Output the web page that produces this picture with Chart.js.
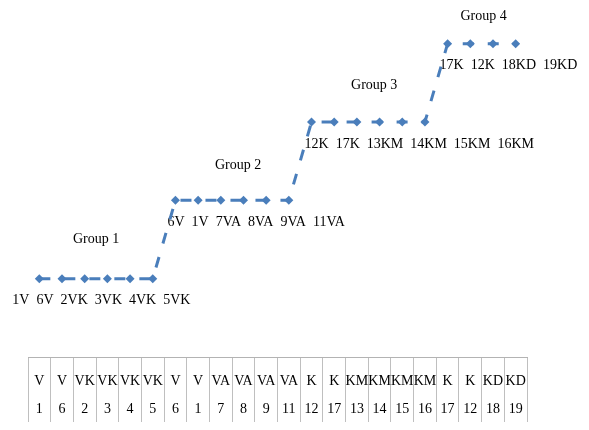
<!DOCTYPE html>
<html>
<head>
<meta charset="utf-8">
<script src="https://cdn.jsdelivr.net/npm/chart.js@4.4.1/dist/chart.umd.min.js"></script>
<style>
  body { margin: 0; background: #ffffff; }
  canvas { display: block; }
</style>
</head>
<body>
<canvas id="grafico" width="589" height="430"></canvas>
<script>
// Datos de la gráfica
const codigos = ['V', 'V', 'VK', 'VK', 'VK', 'VK', 'V', 'V', 'VA', 'VA', 'VA', 'VA', 'K', 'K', 'KM', 'KM', 'KM', 'KM', 'K', 'K', 'KD', 'KD'];
const numeros = ['1', '6', '2', '3', '4', '5', '6', '1', '7', '8', '9', '11', '12', '17', '13', '14', '15', '16', '17', '12', '18', '19'];
const niveles = [1, 1, 1, 1, 1, 1, 2, 2, 2, 2, 2, 2, 3, 3, 3, 3, 3, 3, 4, 4, 4, 4];
const grupos = ['Group 1', 'Group 2', 'Group 3', 'Group 4'];

const azul = '#4a7ebb';
const fuente = "'Liberation Serif', 'Times New Roman', serif";

// Ajustes de posición de los textos de cada grupo
const desplazaEtiqueta = [-27, -8, -7, -8];
const desplazaTitulo = [[0, -39], [6, -35], [6, -37], [2, -27]];

// Plugin para dibujar los nombres de grupo y las etiquetas de los puntos
const textosGrupo = {
    id: 'textosGrupo',
    beforeDatasetsDraw(chart) {
        const ctx = chart.ctx;
        const puntos = chart.getDatasetMeta(0).data;
        ctx.save();
        ctx.fillStyle = '#000000';
        ctx.font = '14px ' + fuente;
        ctx.textBaseline = 'middle';
        grupos.forEach((nombre, g) => {
            const idx = [];
            niveles.forEach((n, i) => { if (n === g + 1) idx.push(i); });
            const p0 = puntos[idx[0]];
            const p1 = puntos[idx[idx.length - 1]];
            const texto = idx.map(i => numeros[i] + codigos[i]).join('  ');
            ctx.textAlign = 'left';
            ctx.fillText(texto, p0.x + desplazaEtiqueta[g], p0.y + 22);
            ctx.textAlign = 'center';
            ctx.fillText(nombre, (p0.x + p1.x) / 2 + desplazaTitulo[g][0], p0.y + desplazaTitulo[g][1]);
        });
        ctx.restore();
    }
};

// Plugin para escribir la tabla bajo el eje X (dos filas: código y número)
const tablaEje = {
    id: 'tablaEje',
    afterDraw(chart) {
        const ctx = chart.ctx;
        const x = chart.scales.x;
        ctx.save();
        ctx.fillStyle = '#000000';
        ctx.font = '14px ' + fuente;
        ctx.textAlign = 'center';
        ctx.textBaseline = 'middle';
        codigos.forEach((c, i) => {
            const px = x.getPixelForValue(i);
            ctx.fillText(c, px, x.top + 24);
            ctx.fillText(numeros[i], px, x.top + 52);
        });
        ctx.restore();
    }
};

const ctx = document.getElementById('grafico').getContext('2d');
const myChart = new Chart(ctx, {
    type: 'line',
    data: {
        labels: codigos.map((c, i) => c + ' ' + numeros[i]),
        datasets: [{
            data: niveles,
            borderColor: azul,
            backgroundColor: azul,
            borderWidth: 3,
            borderDash: [11, 14],
            pointStyle: 'rectRot',
            pointRadius: 4.5,
            pointBorderWidth: 0,
            tension: 0
        }]
    },
    options: {
        responsive: false,
        animation: false,
        layout: { padding: { left: 28, right: 62, top: 0, bottom: 8 } },
        plugins: {
            legend: { display: false },
            tooltip: { enabled: false }
        },
        scales: {
            x: {
                offset: true,
                grid: {
                    offset: true,
                    drawOnChartArea: false,
                    tickLength: 65,
                    tickColor: '#bfbfbf',
                    tickWidth: 1
                },
                border: { display: true, color: '#b3b3b3', width: 1 },
                ticks: { display: false, autoSkip: false }
            },
            y: {
                display: false,
                min: 0,
                max: 4.5
            }
        }
    },
    plugins: [textosGrupo, tablaEje]
});
</script>
</body>
</html>
